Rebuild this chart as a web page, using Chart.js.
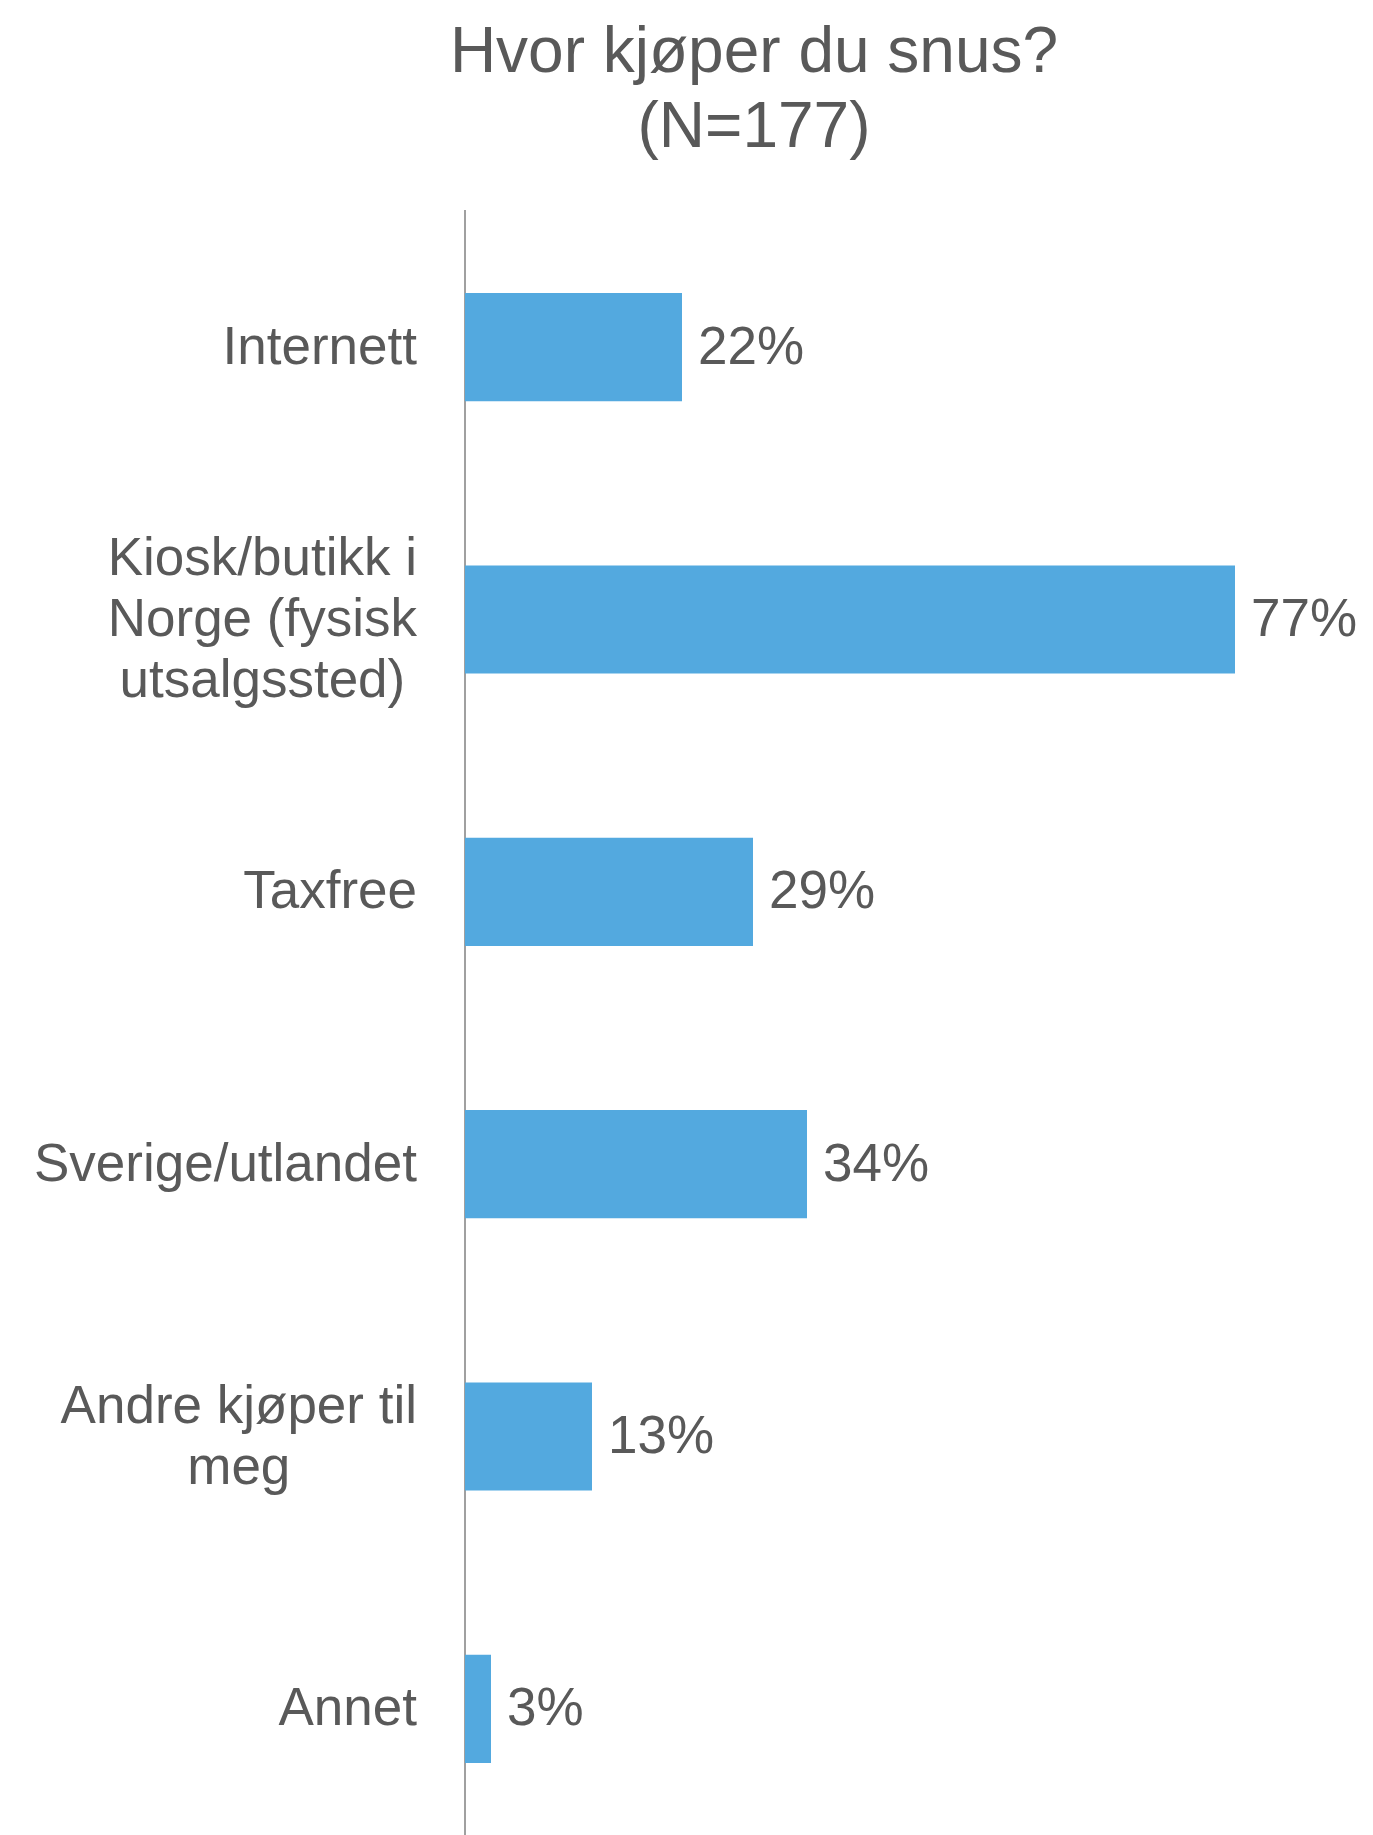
<!DOCTYPE html>
<html>
<head>
<meta charset="utf-8">
<script src="https://cdn.jsdelivr.net/npm/chart.js@4/dist/chart.umd.min.js"></script>
<style>
    html, body { margin: 0; padding: 0; background: #ffffff; overflow: hidden; }
    #wrap { width: 1373px; height: 1845px; }
</style>
</head>
<body>
<div id="wrap"><canvas id="snus-chart" width="1373" height="1845"></canvas></div>
<script>
// ===== Data =====
const titleLines = ["Hvor kjøper du snus?", "(N=177)"];
const categories = [
    ["Internett"],
    ["Kiosk/butikk i", "Norge (fysisk", "utsalgssted)"],
    ["Taxfree"],
    ["Sverige/utlandet"],
    ["Andre kjøper til", "meg"],
    ["Annet"]
];
const shares = [21.7, 77.0, 28.8, 34.2, 12.7, 2.6];

// ===== Styles =====
const TEXT_COLOR = "#595959";
const BAR_COLOR = "#53A9DF";
const AXIS_COLOR = "#a0a0a0";
const FONT = "Liberation Sans, Arial, Helvetica, sans-serif";

// Title, centred a bit right of the canvas middle like the original
const titlePlugin = {
    id: "titleAt",
    afterDraw(chart) {
        const ctx = chart.ctx;
        ctx.save();
        ctx.fillStyle = TEXT_COLOR;
        ctx.font = "64px " + FONT;
        ctx.textAlign = "center";
        ctx.textBaseline = "alphabetic";
        titleLines.forEach(function(line, i) {
            ctx.fillText(line, 754, 72 + i * 75);
        });
        ctx.restore();
    }
};

// Category labels: block right-aligned, lines centred inside the block
const categoryLabels = {
    id: "categoryLabels",
    afterDraw(chart) {
        const ctx = chart.ctx;
        const yScale = chart.scales.y;
        const rightEdge = chart.chartArea.left - 48;
        const lineH = 61;
        ctx.save();
        ctx.fillStyle = TEXT_COLOR;
        ctx.font = "53px " + FONT;
        ctx.textAlign = "center";
        ctx.textBaseline = "middle";
        categories.forEach(function(lines, i) {
            const yc = yScale.getPixelForValue(i) + 2;
            const maxW = Math.max.apply(null, lines.map(function(l) { return ctx.measureText(l).width; }));
            const xc = rightEdge - maxW / 2;
            const y0 = yc - (lines.length - 1) * lineH / 2;
            lines.forEach(function(l, j) {
                ctx.fillText(l, xc, y0 + j * lineH);
            });
        });
        ctx.restore();
    }
};

// Value labels at the end of each bar
const valueLabels = {
    id: "valueLabels",
    afterDatasetsDraw(chart) {
        const ctx = chart.ctx;
        const meta = chart.getDatasetMeta(0);
        ctx.save();
        ctx.fillStyle = TEXT_COLOR;
        ctx.font = "53px " + FONT;
        ctx.textAlign = "left";
        ctx.textBaseline = "middle";
        meta.data.forEach(function(bar, i) {
            ctx.fillText(Math.round(shares[i]) + "%", bar.x + 16, bar.y + 2);
        });
        ctx.restore();
    }
};

const ctx = document.getElementById("snus-chart").getContext("2d");
new Chart(ctx, {
    type: "bar",
    data: {
        labels: categories,
        datasets: [{
            data: shares,
            backgroundColor: BAR_COLOR,
            borderWidth: 0,
            categoryPercentage: 1,
            barPercentage: 0.397
        }]
    },
    options: {
        indexAxis: "y",
        responsive: false,
        animation: false,
        events: [],
        layout: { padding: { top: 211, right: 8, bottom: 0, left: 0 } },
        plugins: {
            legend: { display: false },
            title: { display: false },
            tooltip: { enabled: false }
        },
        scales: {
            x: {
                display: false,
                min: 0,
                max: 90
            },
            y: {
                ticks: { display: false },
                grid: { display: false, drawTicks: false },
                border: { display: true, color: AXIS_COLOR, width: 2 },
                afterFit: function(scale) { scale.width = 465; }
            }
        }
    },
    plugins: [titlePlugin, categoryLabels, valueLabels]
});
</script>
</body>
</html>
